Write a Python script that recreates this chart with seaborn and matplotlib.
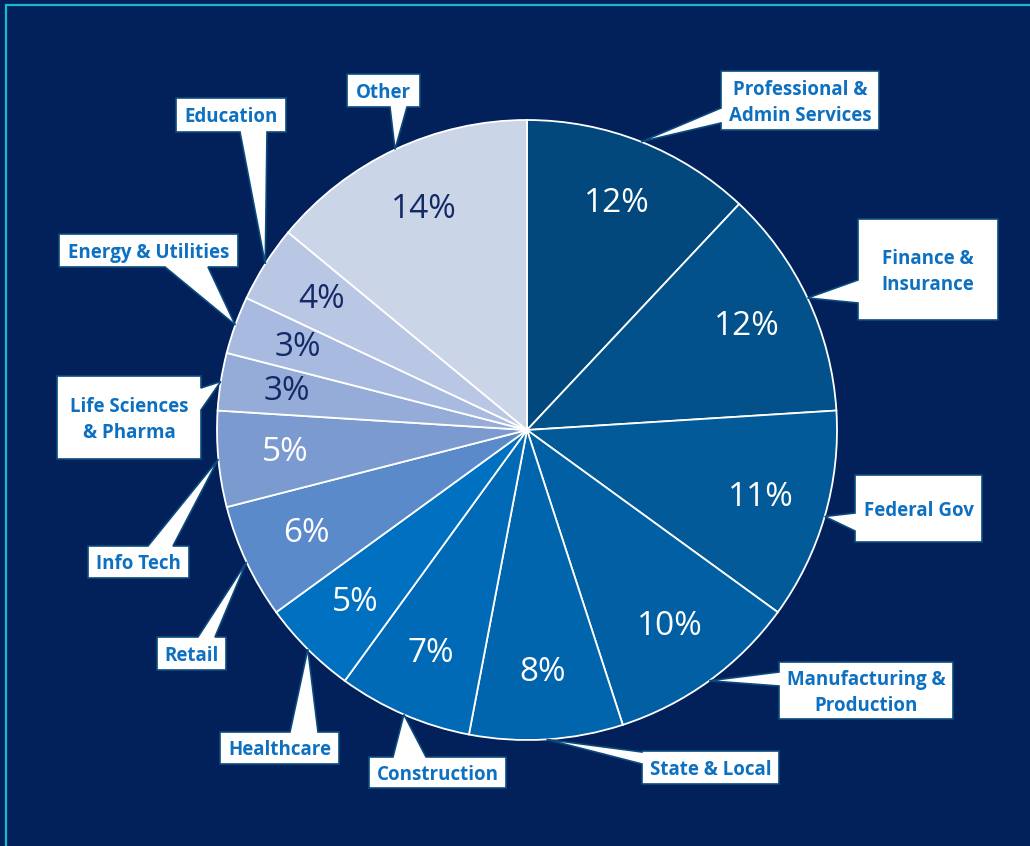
import matplotlib
matplotlib.use("Agg")
import matplotlib.pyplot as plt
from matplotlib.patches import Polygon
import numpy as np
import seaborn as sns

# Share of employment by sector, clockwise from 12 o'clock
sectors = [
    "Professional &\nAdmin Services",
    "Finance &\nInsurance",
    "Federal Gov",
    "Manufacturing &\nProduction",
    "State & Local",
    "Construction",
    "Healthcare",
    "Retail",
    "Info Tech",
    "Life Sciences\n& Pharma",
    "Energy & Utilities",
    "Education",
    "Other",
]
shares = [12, 12, 11, 10, 8, 7, 5, 6, 5, 3, 3, 4, 14]

slice_colors = [
    "#03487c", "#03518a", "#025a99", "#015fa4", "#0165ae", "#006ab7",
    "#0070c0", "#5b8aca", "#7b9bd0", "#95acd8", "#a8badf", "#bac7e4",
    "#cbd5e8",
]
pct_colors = ["white"] * 9 + ["#132a66"] * 4

BG = "#02215a"
FRAME = "#1ab8cc"
BOX_EDGE = "#0b4a7e"
TEXT_BLUE = "#0e70c0"

# Figure geometry (pixels): pie centre and radius
W, H = 1030, 846
CX, CY, R = 527, 430, 310

# Callout boxes in pixel space: (x0, y0, x1, y1), side the pointer leaves from,
# and where the pointer base sits along that side
callouts = [
    ((721, 71, 879, 130), "left", (108, 123)),
    ((858, 219, 998, 320), "left", (280, 303)),
    ((855, 475, 982, 542), "left", (513, 531)),
    ((779, 662, 953, 719), "left", (672, 686)),
    ((642, 751, 779, 784), "left", (752, 764)),
    ((369, 757, 506, 788), "top", (393, 426)),
    ((220, 732, 339, 764), "top", (290, 318)),
    ((157, 637, 226, 670), "top", (198, 215)),
    ((88, 546, 189, 578), "top", (148, 173)),
    ((57, 376, 201, 459), "right", (388, 410)),
    ((59, 234, 238, 267), "bottom", (165, 208)),
    ((176, 98, 286, 132), "bottom", (240, 267)),
    ((347, 74, 420, 107), "bottom", (390, 407)),
]

sns.set_theme(style="white")
plt.rcParams["font.family"] = ["Open Sans", "DejaVu Sans"]


def to_data(x, y):
    return ((x - CX) / R, (CY - y) / R)


fig = plt.figure(figsize=(W / 100, H / 100), dpi=100, facecolor=BG)
ax = fig.add_axes([0, 0, 1, 1])
ax.set_facecolor(BG)

palette = sns.color_palette(slice_colors)
wedges, _, autotexts = ax.pie(
    shares,
    colors=palette,
    startangle=90,
    counterclock=False,
    radius=1.0,
    autopct=lambda p: f"{p:.0f}%",
    pctdistance=0.785,
    wedgeprops=dict(edgecolor="white", linewidth=1.3),
    textprops=dict(fontsize=24, fontfamily=["Open Sans", "DejaVu Sans"]),
)
for t, c in zip(autotexts, pct_colors):
    t.set_color(c)

ax.set_xlim(-CX / R, (W - CX) / R)
ax.set_ylim((CY - H) / R, CY / R)
ax.set_aspect("auto")
ax.axis("off")

# Callouts: box + pointer drawn as one outline, tip on the wedge's mid-angle
for label, wedge, (box, side, base) in zip(sectors, wedges, callouts):
    ang = np.deg2rad((wedge.theta1 + wedge.theta2) / 2)
    tip = (np.cos(ang), np.sin(ang))
    x0, y0, x1, y1 = box
    b1, b2 = base
    if side == "left":
        pts = [(x0, y0), (x1, y0), (x1, y1), (x0, y1), (x0, b2), None, (x0, b1)]
    elif side == "right":
        pts = [(x0, y0), (x1, y0), (x1, b1), None, (x1, b2), (x1, y1), (x0, y1)]
    elif side == "top":
        pts = [(x0, y0), (b1, y0), None, (b2, y0), (x1, y0), (x1, y1), (x0, y1)]
    else:
        pts = [(x0, y0), (x1, y0), (x1, y1), (b2, y1), None, (b1, y1), (x0, y1)]
    verts = [tip if p is None else to_data(*p) for p in pts]
    ax.add_patch(Polygon(verts, closed=True, facecolor="white",
                         edgecolor=BOX_EDGE, linewidth=1.2, zorder=5,
                         joinstyle="miter"))
    cx, cy = to_data((x0 + x1) / 2, (y0 + y1) / 2 + 2)
    ax.text(cx, cy, label, ha="center", va="center", fontsize=13.5,
            fontweight="bold", color=TEXT_BLUE, linespacing=1.4,
            multialignment="center", zorder=6)

# Cyan frame along the top and left edges
fx0, fy0 = to_data(6, 5)
fx1, fy1 = to_data(W + 10, H + 10)
ax.plot([fx1, fx0, fx0], [fy0, fy0, fy1], color=FRAME, linewidth=1.6,
        clip_on=False, zorder=10, solid_joinstyle="miter")

fig.savefig("out.png", dpi=100, facecolor=BG)
